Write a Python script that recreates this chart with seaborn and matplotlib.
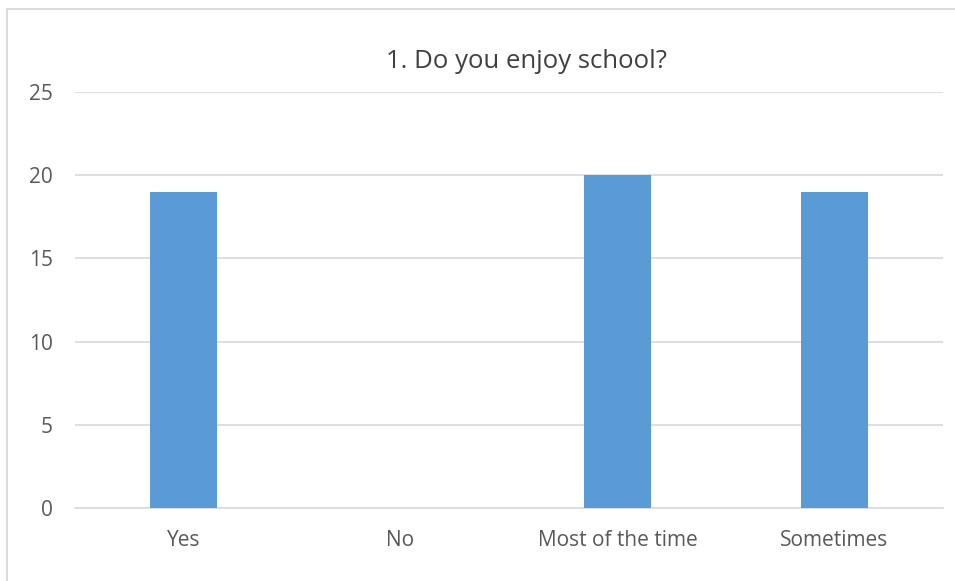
import matplotlib
matplotlib.use("Agg")
import matplotlib.pyplot as plt
import seaborn as sns
import pandas as pd
from matplotlib.patches import Rectangle

categories = ["Yes", "No", "Most of the time", "Sometimes"]
counts = [19, 0, 20, 19]
title = "1. Do you enjoy school?"

df = pd.DataFrame({"answer": categories, "count": counts})

sns.set_style("white")
plt.rcParams["font.family"] = ["Open Sans", "DejaVu Sans"]

fig = plt.figure(figsize=(9.55, 5.81), dpi=100)
ax = fig.add_axes([75 / 955, (581 - 508) / 581, 868 / 955, 416 / 581])

sns.barplot(data=df, x="answer", y="count", color="#5B9BD5", width=0.31,
            saturation=1, linewidth=0, ax=ax, zorder=3)

ax.set_ylim(0, 25)
ax.set_yticks(range(0, 26, 5))
ax.set_xlim(-0.5, 3.5)
ax.yaxis.grid(True, color="#D9D9D9", linewidth=1.2, zorder=0)
ax.set_axisbelow(True)
for s in ["top", "right", "left"]:
    ax.spines[s].set_visible(False)
ax.spines["bottom"].set_color("#D9D9D9")
ax.spines["bottom"].set_linewidth(1.2)
ax.tick_params(axis="both", length=0, labelsize=15, labelcolor="#595959")
ax.tick_params(axis="x", pad=16)
ax.tick_params(axis="y", pad=16)
ax.set_xlabel("")
ax.set_ylabel("")

fig.text(526 / 955, 1 - 62 / 581, title, ha="center", va="center",
         fontsize=18.5, color="#404040")

# chart border (left and top visible)
fig.patches.append(Rectangle((7 / 955, -0.1), 1.2, 1 - 9 / 581 + 0.1,
                             transform=fig.transFigure, fill=False,
                             edgecolor="#D9D9D9", linewidth=1.3))

fig.savefig("out.png", dpi=100)
